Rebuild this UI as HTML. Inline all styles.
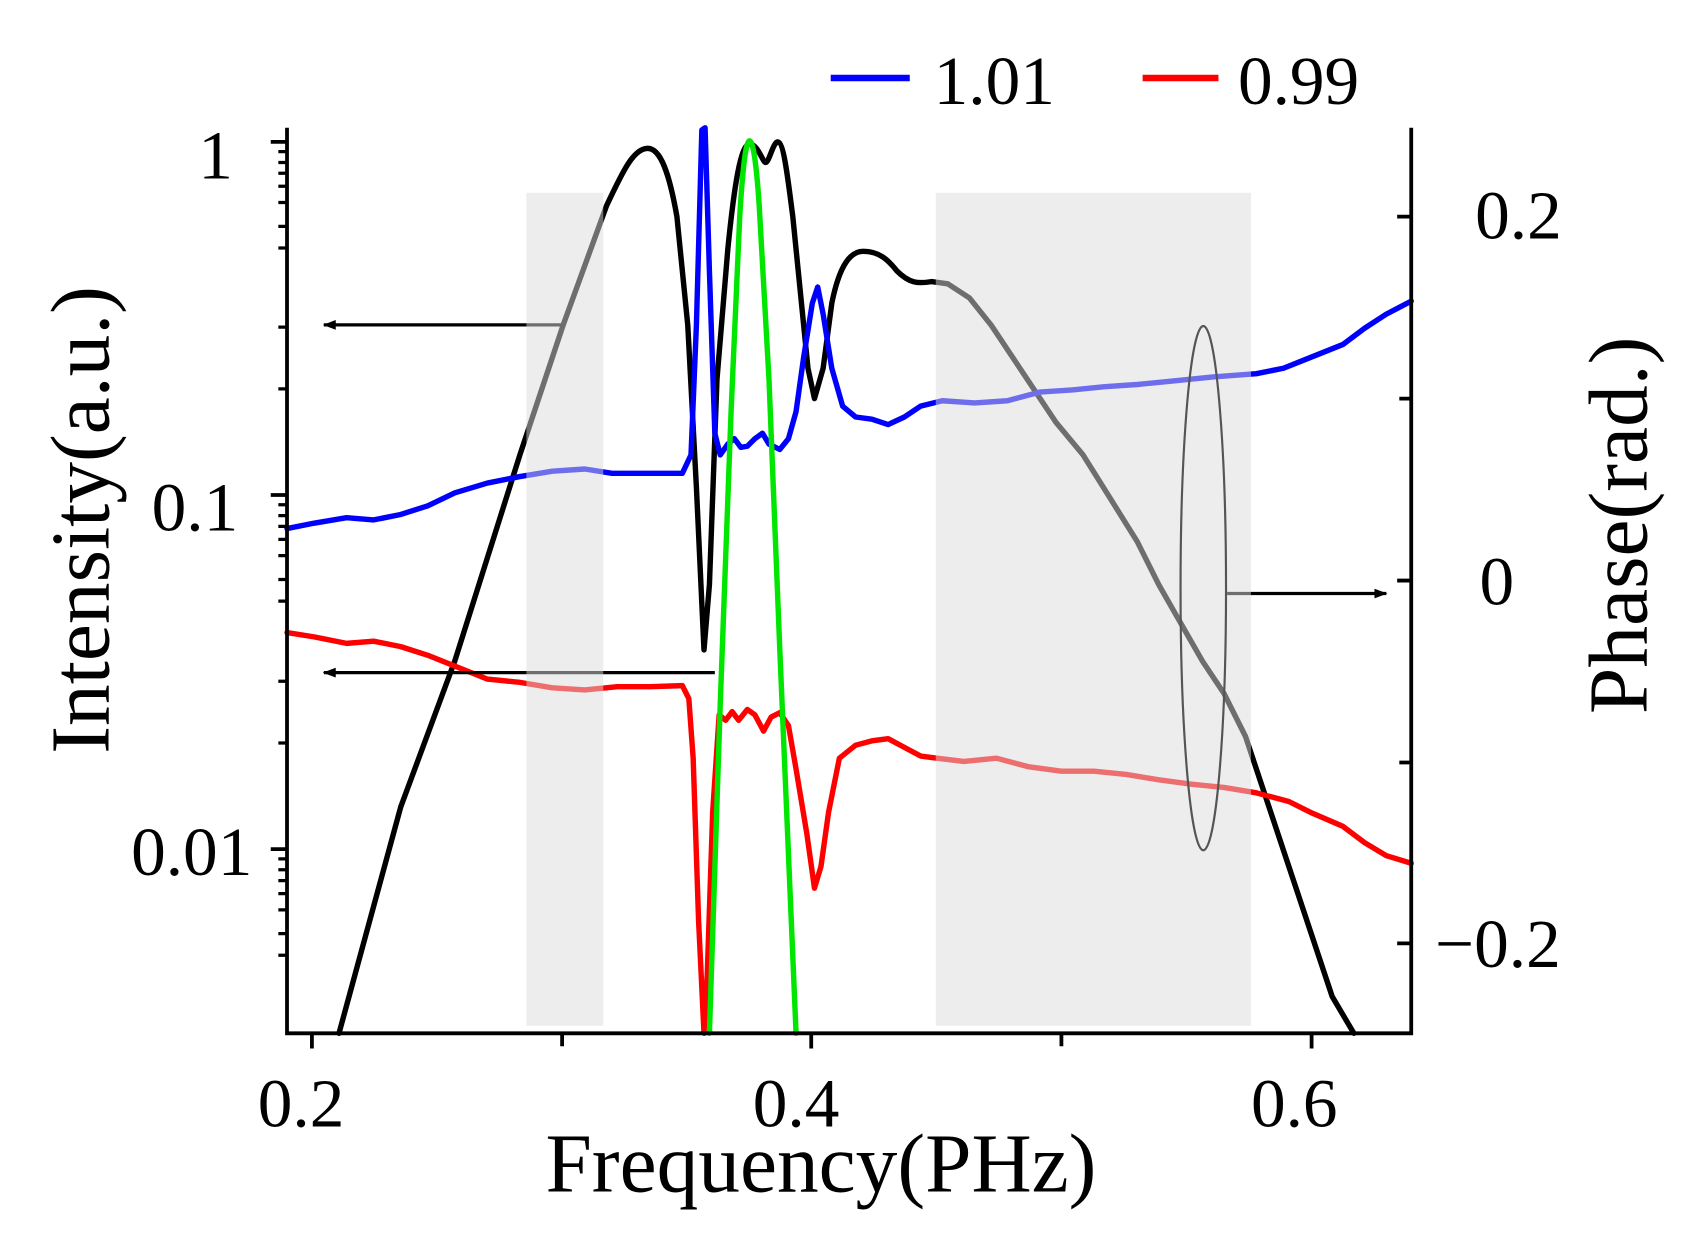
<!DOCTYPE html>
<html><head><meta charset="utf-8"><style>html,body{margin:0;padding:0;background:#fff}svg{display:block}</style></head>
<body>
<svg width="1695" height="1251" viewBox="0 0 1565 1155" preserveAspectRatio="none" xmlns="http://www.w3.org/2000/svg" font-family="Liberation Serif, serif">
<defs><marker id="ah" markerWidth="12" markerHeight="9" refX="11" refY="4.5" orient="auto" markerUnits="userSpaceOnUse"><path d="M0,0 L12,4.5 L0,9 z" fill="#000"/></marker></defs>
<g fill="none" stroke-linejoin="round" stroke-linecap="round">
<path stroke="#000" stroke-width="5" d="M313,954 L370,745 L420,610 L480,420 L520,300 L560,190 C575,158 585,137 598,137 C610,137 618,160 625,200 L635,300 L643,450 L650,600 L655,540 L662,350 L672,230 C678,170 684,133 692,133 C700,133 704,150 707,150 C710,150 714,131 718,131 C724,131 728,170 732,200 L740,280 L746,340 L752,368 L760,340 L768,280 C775,245 785,232 797,232 C812,232 820,240 828,250 C840,262 848,262 860,260 L875,262 L895,275 L915,300 L935,330 L955,360 L975,390 L1000,420 L1025,460 L1050,500 L1070,540 L1090,575 L1110,610 L1130,640 L1150,680 L1170,740 L1190,800 L1210,860 L1230,920 L1250,954"/>
<polyline stroke="#0000ff" stroke-width="5" points="265,488 290,483 320,478 345,480 370,475 395,467 420,455 450,446 480,440 510,435 540,433 565,437 600,437 630,437 638,420 643,300 648,120 651,118 655,250 660,400 665,420 672,410 678,405 684,413 690,412 697,405 704,400 710,410 720,415 728,405 735,380 742,330 750,280 755,265 760,290 768,340 778,375 790,385 805,387 820,392 835,385 850,375 870,370 900,372 930,370 960,362 990,360 1020,357 1050,355 1080,352 1120,348 1160,345 1185,340 1210,330 1240,318 1260,303 1280,290 1303,278"/>
<polyline stroke="#ff0000" stroke-width="5" points="265,584 290,588 320,594 345,592 370,597 395,605 420,615 450,627 480,630 510,635 540,637 570,634 600,634 630,633 636,645 640,700 645,850 650,954 653,900 658,750 664,660 670,665 676,657 682,665 690,655 697,660 705,675 712,662 720,658 728,670 735,710 745,770 752,820 758,800 765,750 775,700 790,688 805,684 820,682 835,690 850,698 865,700 890,703 920,700 950,708 980,712 1010,712 1040,715 1070,720 1100,724 1130,727 1160,732 1190,740 1210,750 1240,763 1260,778 1280,790 1303,797"/>
<path stroke="#00e600" stroke-width="5" d="M655,954 L665,650 L675,380 L683,200 C686,150 689,130 692,130 C696,130 699,160 701,190 L710,350 L720,600 L735,954"/>
</g>
<line x1="660" y1="621" x2="299" y2="621" stroke="#000" stroke-width="3" marker-end="url(#ah)"/>
<line x1="518" y1="300" x2="299" y2="300" stroke="#000" stroke-width="3" marker-end="url(#ah)"/>
<line x1="1133" y1="548" x2="1280" y2="548" stroke="#000" stroke-width="3" marker-end="url(#ah)"/>
<rect x="486" y="178" width="71" height="769" fill="#dcdcdc" opacity="0.5"/>
<rect x="864" y="178" width="291" height="769" fill="#dcdcdc" opacity="0.5"/>
<ellipse cx="1111" cy="543" rx="21" ry="242" fill="none" stroke="#555" stroke-width="2"/>
<g stroke="#000" stroke-width="3.5" fill="none">
<path d="M265,118 V954 H1303 V118"/>
<path d="M250,131 H265 M250,457 H265 M250,784 H265"/>
<path d="M288,954 V968 M519,954 V966 M749,954 V968 M980,954 V966 M1211,954 V968"/>
<path d="M1290,200 H1303 M1292,368 H1303 M1290,536 H1303 M1292,704 H1303 M1290,871 H1303"/>
</g>
<g stroke="#000" stroke-width="3">
<path d="M257,229 H265 M257,187 H265 M257,209 H265 M257,172 H265 M257,160 H265 M257,150 H265 M257,140 H265 M257,359 H265 M257,302 H265"/>
<path d="M257,555 H265 M257,513 H265 M257,535 H265 M257,498 H265 M257,486 H265 M257,476 H265 M257,466 H265 M257,686 H265 M257,629 H265"/>
<path d="M257,882 H265 M257,840 H265 M257,862 H265 M257,825 H265 M257,813 H265 M257,803 H265 M257,793 H265"/>
</g>
<g font-size="64" fill="#000">
<text x="215" y="165" text-anchor="end">1</text>
<text x="220" y="490" text-anchor="end">0.1</text>
<text x="233" y="808" text-anchor="end">0.01</text>
<text x="278" y="1040" text-anchor="middle">0.2</text>
<text x="735" y="1040" text-anchor="middle">0.4</text>
<text x="1195" y="1040" text-anchor="middle">0.6</text>
<text x="1362" y="220">0.2</text>
<text x="1366" y="558">0</text>
<text x="1325" y="893">−0.2</text>
<text x="862" y="96">1.01</text>
<text x="1143" y="96">0.99</text>
</g>
<line x1="767" y1="72" x2="840" y2="72" stroke="#0000ff" stroke-width="6"/>
<line x1="1055" y1="72" x2="1125" y2="72" stroke="#ff0000" stroke-width="6"/>
<g font-size="77" fill="#000">
<text x="758" y="1100" text-anchor="middle">Frequency(PHz)</text>
<text transform="translate(100,480) rotate(-90)" text-anchor="middle">Intensity(a.u.)</text>
<text transform="translate(1520,485) rotate(-90)" text-anchor="middle">Phase(rad.)</text>
</g>
</svg>
</body></html>
